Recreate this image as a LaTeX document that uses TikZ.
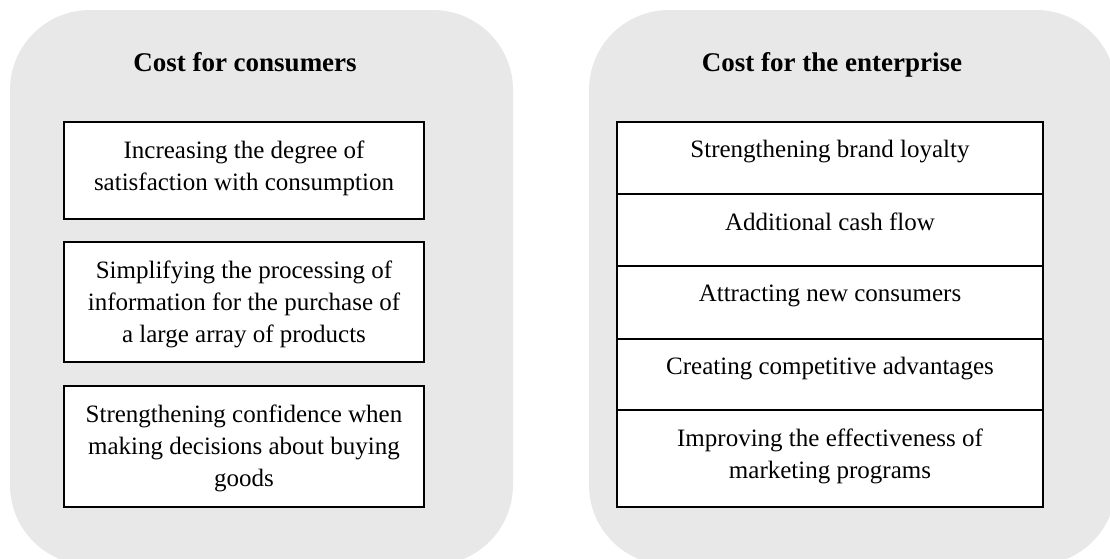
\documentclass[tikz,border=0pt]{standalone}
\usepackage{fontspec}
\setmainfont{Liberation Serif}
\begin{document}
\begin{tikzpicture}[x=1pt,y=-1pt,
  panel/.style={fill=panelgray,draw=none,rounded corners=80pt},
  itembox/.style={draw=black,line width=1.3pt,fill=white},
  rowline/.style={line width=1.3pt},
  itemtext/.style={align=center,font=\fontsize{25}{32}\selectfont,inner sep=0pt},
  titletext/.style={font=\fontsize{27}{30}\selectfont\bfseries,inner sep=0pt,anchor=base}]
\definecolor{panelgray}{HTML}{E8E8E8}
\useasboundingbox (0,0) rectangle (1110,558);
\clip (0,0) rectangle (1110,558);
% panels
\fill[panel] (10,10) rectangle (513,565);
\fill[panel] (589,10) rectangle (1116,565);
% titles
\node[titletext] (t1) at (245,71) {Cost for consumers};
\node[titletext] (t2) at (832,71) {Cost for the enterprise};
% left boxes
\draw[itembox] (64,122) rectangle (424,219);
\node[itemtext] (l1) at (244,168) {Increasing the degree of\\satisfaction with consumption};
\draw[itembox] (64,242) rectangle (424,362);
\node[itemtext] (l2) at (244,304) {Simplifying the processing of\\information for the purchase of\\a large array of products};
\draw[itembox] (64,386) rectangle (424,507);
\node[itemtext] (l3) at (244,448) {Strengthening confidence when\\making decisions about buying\\goods};
% right boxes
\draw[itembox] (617,122) rectangle (1043,507);
\draw[rowline] (617,194) -- (1043,194);
\draw[rowline] (617,266) -- (1043,266);
\draw[rowline] (617,339) -- (1043,339);
\draw[rowline] (617,410) -- (1043,410);
\node[itemtext,anchor=base] (r1) at (830,157) {Strengthening brand loyalty};
\node[itemtext,anchor=base] (r2) at (830,230) {Additional cash flow};
\node[itemtext,anchor=base] (r3) at (830,301) {Attracting new consumers};
\node[itemtext,anchor=base] (r4) at (830,374) {Creating competitive advantages};
\node[itemtext] (r5) at (830,456) {Improving the effectiveness of\\marketing programs};
\end{tikzpicture}
\end{document}
